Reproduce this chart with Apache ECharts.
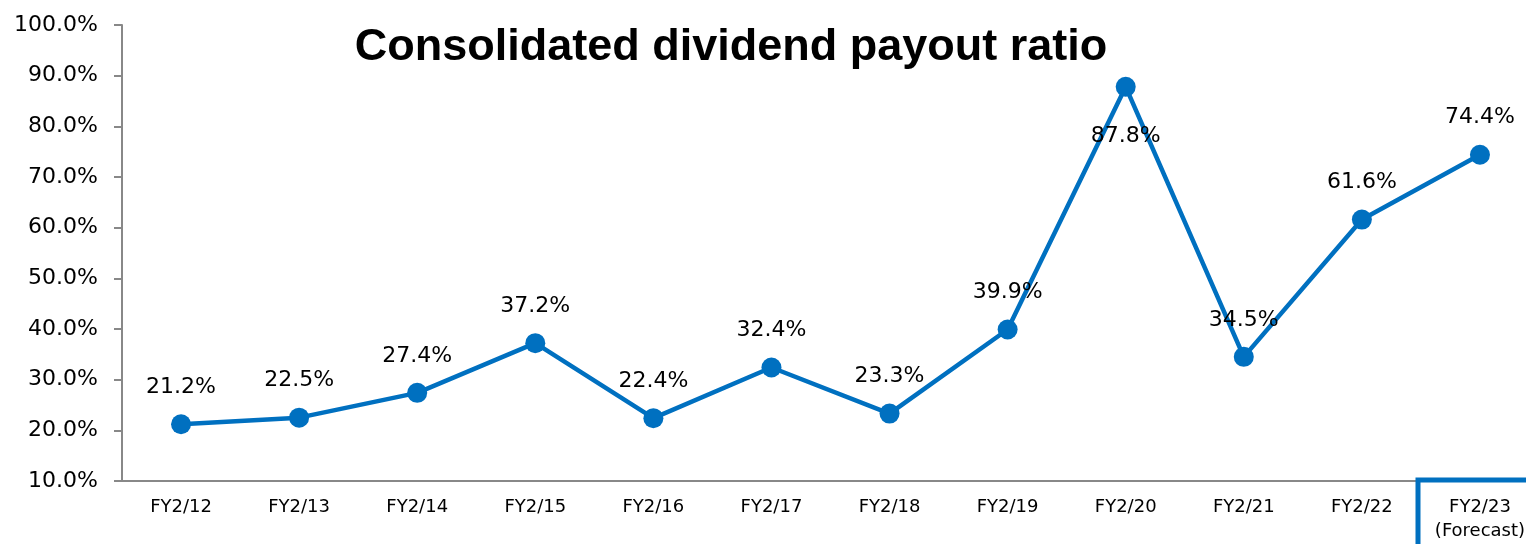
<!DOCTYPE html>
<html>
<head>
<meta charset="utf-8">
<script src="https://cdn.jsdelivr.net/npm/echarts@6/dist/echarts.min.js"></script>
<style>
    html, body { margin: 0; padding: 0; background: #fff; overflow: hidden; }
    #chart1 { width: 1539px; height: 544px; }
</style>
</head>
<body>
<div id="chart1"></div>
<script>
    var years = ['FY2/12', 'FY2/13', 'FY2/14', 'FY2/15', 'FY2/16', 'FY2/17', 'FY2/18', 'FY2/19', 'FY2/20', 'FY2/21', 'FY2/22', 'FY2/23\n(Forecast)'];
    var payout = [21.2, 22.5, 27.4, 37.2, 22.4, 32.4, 23.3, 39.9, 87.8, 34.5, 61.6, 74.4];
    var labelBelow = ['FY2/20'];

    (function(){
        let myChart1 = echarts.init(document.getElementById("chart1"));
        let seriesData = payout.map(function (v, i) {
            let item = { value: v };
            if (labelBelow.indexOf(years[i]) >= 0) {
                item.label = { position: 'bottom', distance: 28 };
            }
            return item;
        });

        let option1 = {
            animation: false,
            title: {
                text: 'Consolidated dividend payout ratio',
                left: 726,
                top: 20,
                textAlign: 'center',
                textStyle: {
                    fontFamily: 'Liberation Sans, Arial',
                    fontWeight: 'bold',
                    fontSize: 45,
                    color: '#000'
                }
            },
            // plot runs past the right edge of the window, like the source slide
            grid: { left: 122, right: 0, top: 25, bottom: 63 },
            xAxis: {
                type: 'category',
                data: years,
                axisLine: { lineStyle: { color: '#888', width: 2 } },
                axisTick: { length: 6, lineStyle: { color: '#888', width: 2 } },
                axisLabel: {
                    color: '#000',
                    fontFamily: 'DejaVu Sans, Verdana',
                    fontSize: 18,
                    lineHeight: 24,
                    margin: 14
                }
            },
            yAxis: {
                type: 'value',
                min: 10,
                max: 100,
                interval: 10,
                splitLine: { show: false },
                axisLine: { show: true, lineStyle: { color: '#888', width: 2 } },
                axisTick: { show: true, length: 8, lineStyle: { color: '#888', width: 2 } },
                axisLabel: {
                    color: '#000',
                    fontFamily: 'DejaVu Sans, Verdana',
                    fontSize: 22,
                    margin: 24,
                    formatter: function (v) { return v.toFixed(1) + '%'; }
                }
            },
            series: [
                {
                    type: 'line',
                    data: seriesData,
                    symbol: 'circle',
                    symbolSize: 20,
                    lineStyle: { color: '#0070C0', width: 4.5 },
                    itemStyle: { color: '#0070C0' },
                    label: {
                        show: true,
                        position: 'top',
                        distance: 16,
                        color: '#000',
                        fontFamily: 'DejaVu Sans, Verdana',
                        fontSize: 22,
                        formatter: function (p) { return p.value.toFixed(1) + '%'; }
                    }
                }
            ],
            graphic: [
                {
                    type: 'rect',
                    shape: { x: 1418, y: 480, width: 130, height: 80 },
                    style: { fill: 'none', stroke: '#0070C0', lineWidth: 5 },
                    z: 100
                }
            ]
        };

        myChart1.setOption(option1);
    })();
</script>
</body>
</html>
